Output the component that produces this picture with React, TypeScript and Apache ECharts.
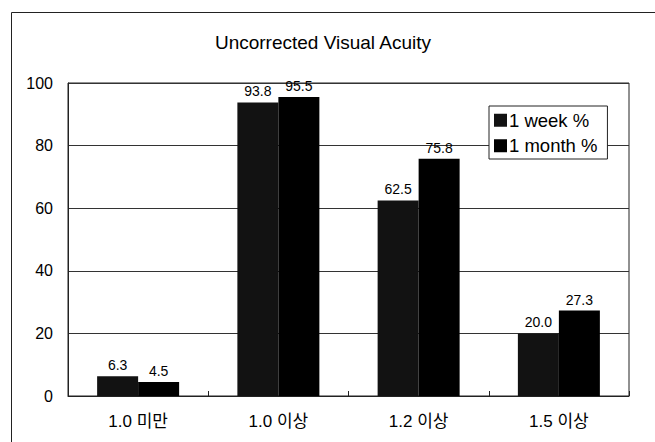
import React, { useEffect, useRef } from "react";
import * as echarts from "echarts";

const categories = ["1.0 미만", "1.0 이상", "1.2 이상", "1.5 이상"];
const weekValues = [6.3, 93.8, 62.5, 20.0];
const monthValues = [4.5, 95.5, 75.8, 27.3];
const seriesNames = ["1 week %", "1 month %"];
const titleText = "Uncorrected Visual Acuity";

const FONT = "'Liberation Sans', Arial, 'Noto Sans CJK KR', sans-serif";

export default function App() {
  const ref = useRef<HTMLDivElement>(null);
  useEffect(() => {
    if (!ref.current) return;
    const chart = echarts.init(ref.current, undefined, { renderer: "svg" });
    const label = {
      show: true,
      position: "top" as const,
      distance: 4,
      color: "#000",
      fontSize: 14,
      fontFamily: FONT,
      formatter: (p: any) => Number(p.value).toFixed(1),
    };
    chart.setOption({
      animation: false,
      backgroundColor: "#fff",
      textStyle: { fontFamily: FONT },
      graphic: [
        {
          type: "rect",
          shape: { x: 11.5, y: 12.5, width: 700, height: 500 },
          style: { fill: "none", stroke: "#222", lineWidth: 1 },
          silent: true,
        },
        {
          type: "text",
          x: 323,
          y: 42,
          style: {
            text: titleText,
            fontSize: 19,
            fontFamily: FONT,
            fill: "#000",
            align: "center",
            verticalAlign: "middle",
          },
        },
      ],
      grid: {
        left: 68,
        right: 26,
        top: 83,
        bottom: 46,
        show: true,
        borderColor: "#222",
        borderWidth: 1,
      },
      legend: {
        orient: "vertical",
        left: 489,
        top: 106,
        backgroundColor: "#fff",
        borderColor: "#222",
        borderWidth: 1,
        padding: [5, 10, 4, 5],
        itemWidth: 13,
        itemHeight: 13,
        itemGap: 7,
        icon: "rect",
        textStyle: { fontSize: 18.5, fontFamily: FONT, color: "#000", padding: [0, 0, 0, -3] },
        data: seriesNames,
      },
      xAxis: {
        type: "category",
        data: categories,
        axisLine: { lineStyle: { color: "#222", width: 1 } },
        axisTick: { show: true, inside: true, length: 5, lineStyle: { color: "#222" } },
        axisLabel: { color: "#000", fontSize: 17, margin: 17, fontFamily: FONT },
      },
      yAxis: {
        type: "value",
        min: 0,
        max: 100,
        interval: 20,
        axisLine: { show: true, lineStyle: { color: "#222" } },
        axisTick: { show: false },
        axisLabel: { color: "#000", fontSize: 16, margin: 15, fontFamily: FONT },
        splitLine: { show: true, lineStyle: { color: "#333", width: 1 } },
      },
      series: [
        {
          name: seriesNames[0],
          type: "bar",
          data: weekValues,
          barWidth: 41,
          barGap: "0%",
          itemStyle: { color: "#121212" },
          label,
        },
        {
          name: seriesNames[1],
          type: "bar",
          data: monthValues,
          barWidth: 41,
          barGap: "0%",
          itemStyle: { color: "#000" },
          label,
        },
      ],
    });
    return () => chart.dispose();
  }, []);
  return (
    <div
      ref={ref}
      style={{ position: "fixed", left: 0, top: 0, width: 655, height: 442 }}
    />
  );
}
